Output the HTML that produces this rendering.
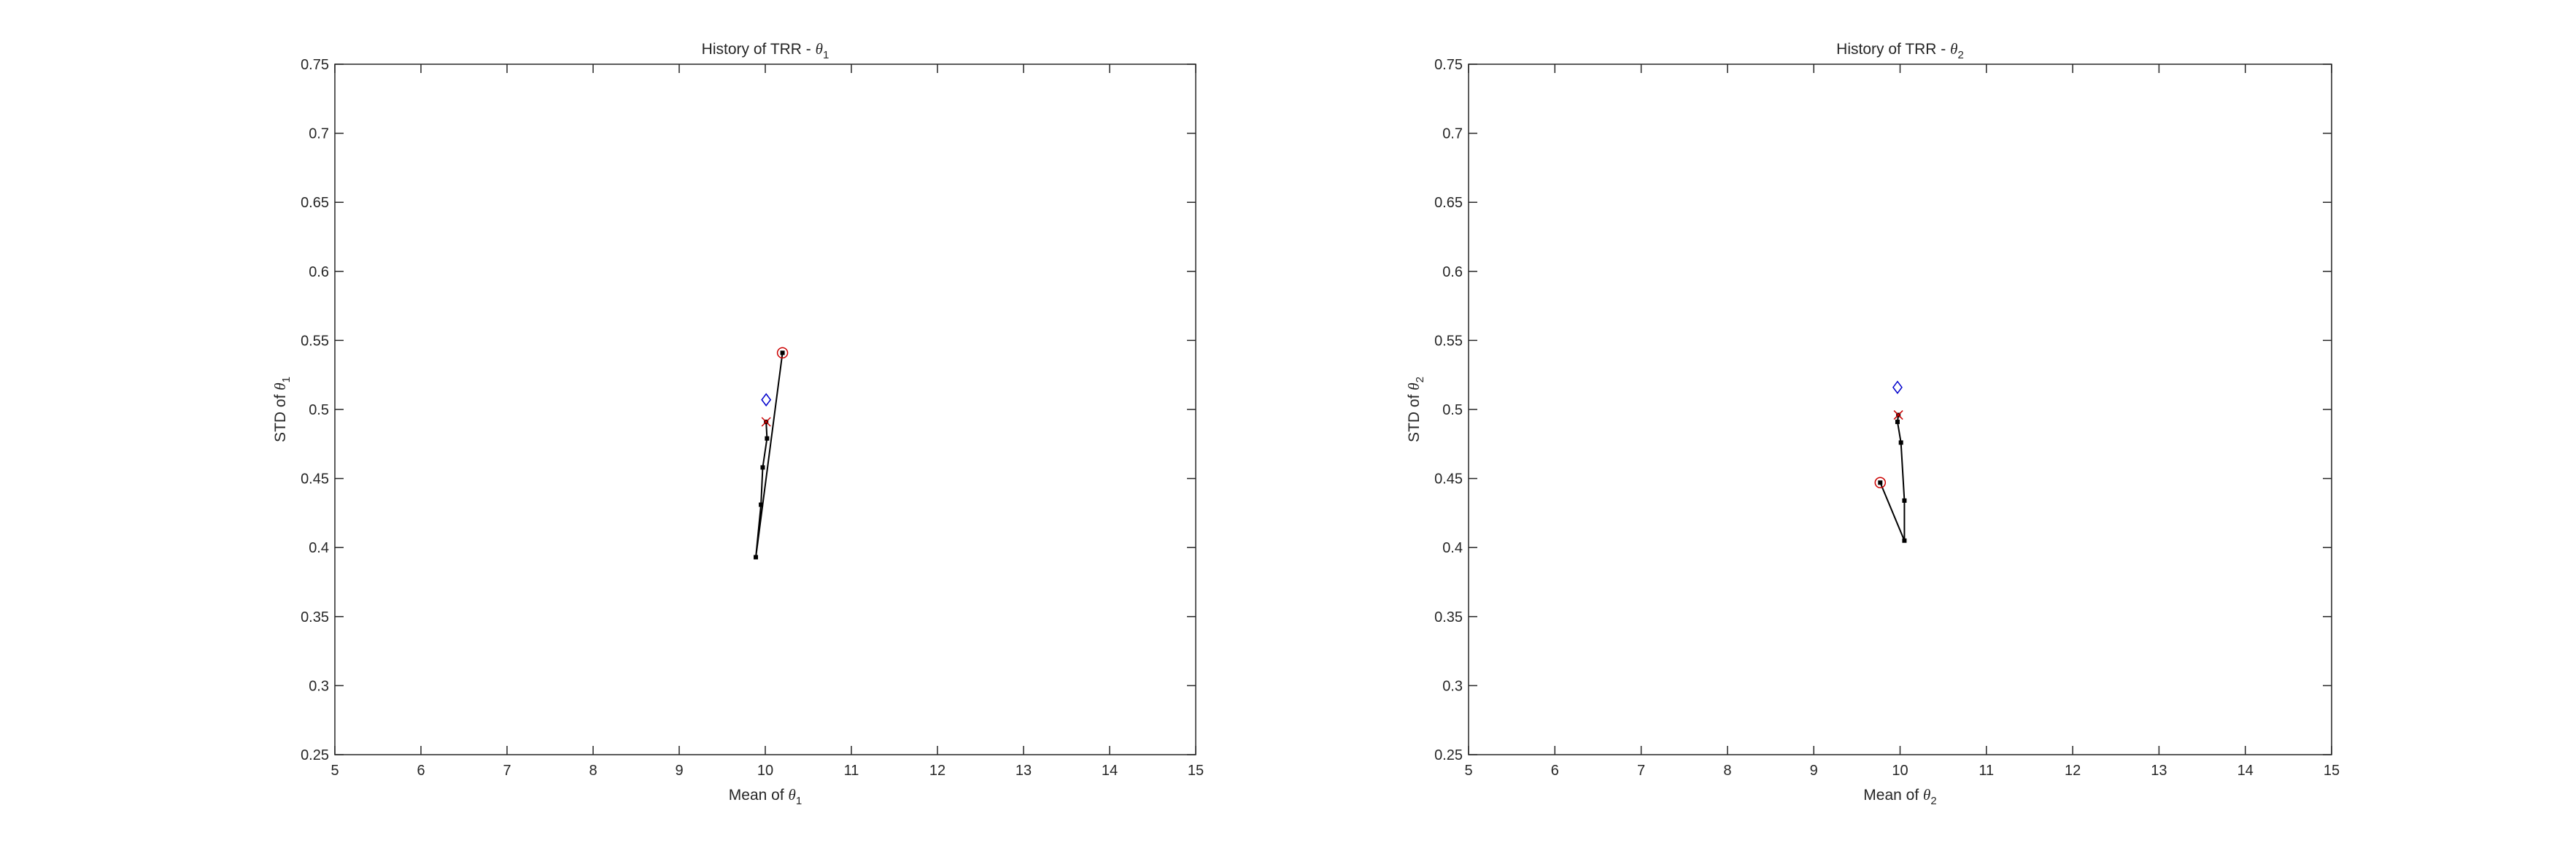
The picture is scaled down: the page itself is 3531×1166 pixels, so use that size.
<!DOCTYPE html>
<html><head><meta charset="utf-8"><style>
html,body{margin:0;padding:0;background:#fff;}
svg text{font-family:"Liberation Sans",sans-serif;fill:#262626;}
</style></head><body>
<svg id="fig" width="3531" height="1161" viewBox="0 0 3531 1161" xmlns="http://www.w3.org/2000/svg"></svg>
<script>
const xTicks=[5,6,7,8,9,10,11,12,13,14,15];
const yTicks=[0.25,0.3,0.35,0.4,0.45,0.5,0.55,0.6,0.65,0.7,0.75];
const yTickLabels=["0.25","0.3","0.35","0.4","0.45","0.5","0.55","0.6","0.65","0.7","0.75"];
const path1X=[10.20,9.89,9.95,9.97,10.02,10.01];
const path1Y=[0.541,0.393,0.431,0.458,0.479,0.491];
const target1=[10.01,0.507];
const path2X=[9.77,10.05,10.05,10.01,9.97,9.98];
const path2Y=[0.447,0.405,0.434,0.476,0.491,0.496];
const target2=[9.97,0.516];

const NS="http://www.w3.org/2000/svg";
const svg=document.getElementById('fig');
function mk(tag,attrs,parent){const e=document.createElementNS(NS,tag);for(const k in attrs)e.setAttribute(k,attrs[k]);(parent||svg).appendChild(e);return e;}

function panel(L,R,T,B,px,py,tgt,idx){
  const g=mk('g',{});
  
  
  const sx=v=>L+(v-5)/10*(R-L);
  const sy=v=>B-(v-0.25)/0.5*(B-T);
  const frame=mk('rect',{x:L,y:T,width:R-L,height:B-T,fill:'#fff',stroke:'#262626','stroke-width':1.5},g);
  
  
  xTicks.forEach(v=>{
    const x=sx(v);
    mk('line',{x1:x,y1:B,x2:x,y2:B-12,stroke:'#262626','stroke-width':1.5},g);
    mk('line',{x1:x,y1:T,x2:x,y2:T+12,stroke:'#262626','stroke-width':1.5},g);
    const t=mk('text',{x:x,y:B+28,'text-anchor':'middle','font-size':20},g);t.textContent=v;
    
    
  });
  yTicks.forEach((v,i)=>{
    const y=sy(v);
    mk('line',{x1:L,y1:y,x2:L+12,y2:y,stroke:'#262626','stroke-width':1.5},g);
    mk('line',{x1:R,y1:y,x2:R-12,y2:y,stroke:'#262626','stroke-width':1.5},g);
    const t=mk('text',{x:L-8,y:y+7,'text-anchor':'end','font-size':20},g);t.textContent=yTickLabels[i];
    
    
  });
  const title=mk('text',{x:(L+R)/2,y:T-14,'text-anchor':'middle','font-size':21},g);
  title.innerHTML='History of TRR - <tspan font-family="Liberation Serif" font-style="italic">θ</tspan><tspan font-size="15" dy="6">'+idx+'</tspan>';
  
  
  const xl=mk('text',{x:(L+R)/2,y:B+62,'text-anchor':'middle','font-size':21},g);
  xl.innerHTML='Mean of <tspan font-family="Liberation Serif" font-style="italic">θ</tspan><tspan font-size="15" dy="6">'+idx+'</tspan>';
  
  
  const cy=(T+B)/2, cx=L-68;
  const yl=mk('text',{x:cx,y:cy,'text-anchor':'middle','font-size':21,transform:'rotate(-90 '+cx+' '+cy+')'},g);
  yl.innerHTML='STD of <tspan font-family="Liberation Serif" font-style="italic">θ</tspan><tspan font-size="15" dy="6">'+idx+'</tspan>';
  
  
  const pts=px.map((v,i)=>sx(v)+','+sy(py[i])).join(' ');
  const line=mk('polyline',{points:pts,fill:'none',stroke:'#000','stroke-width':2},g);
  
  
  px.forEach((v,i)=>{
    const m=mk('rect',{x:sx(v)-3,y:sy(py[i])-3,width:6,height:6,fill:'#000'},g);
    
    
  });
  const c=mk('circle',{cx:sx(px[0]),cy:sy(py[0]),r:7,fill:'none',stroke:'#c00','stroke-width':1.5},g);
  
  
  const n=px.length-1, ex=sx(px[n]), ey=sy(py[n]);
  const x1=mk('path',{d:`M${ex-6} ${ey-6}L${ex+6} ${ey+6}M${ex-6} ${ey+6}L${ex+6} ${ey-6}`,stroke:'#c00','stroke-width':1.5},g);
  
  
  const dx=sx(tgt[0]), dy=sy(tgt[1]);
  const d=mk('path',{d:`M${dx} ${dy-8}L${dx+6} ${dy}L${dx} ${dy+8}L${dx-6} ${dy}Z`,fill:'none',stroke:'#00c','stroke-width':1.5},g);
  
  
}
panel(459,1639,88,1034,path1X,path1Y,target1,1);
panel(2013,3196,88,1034,path2X,path2Y,target2,2);
</script>
</body></html>
